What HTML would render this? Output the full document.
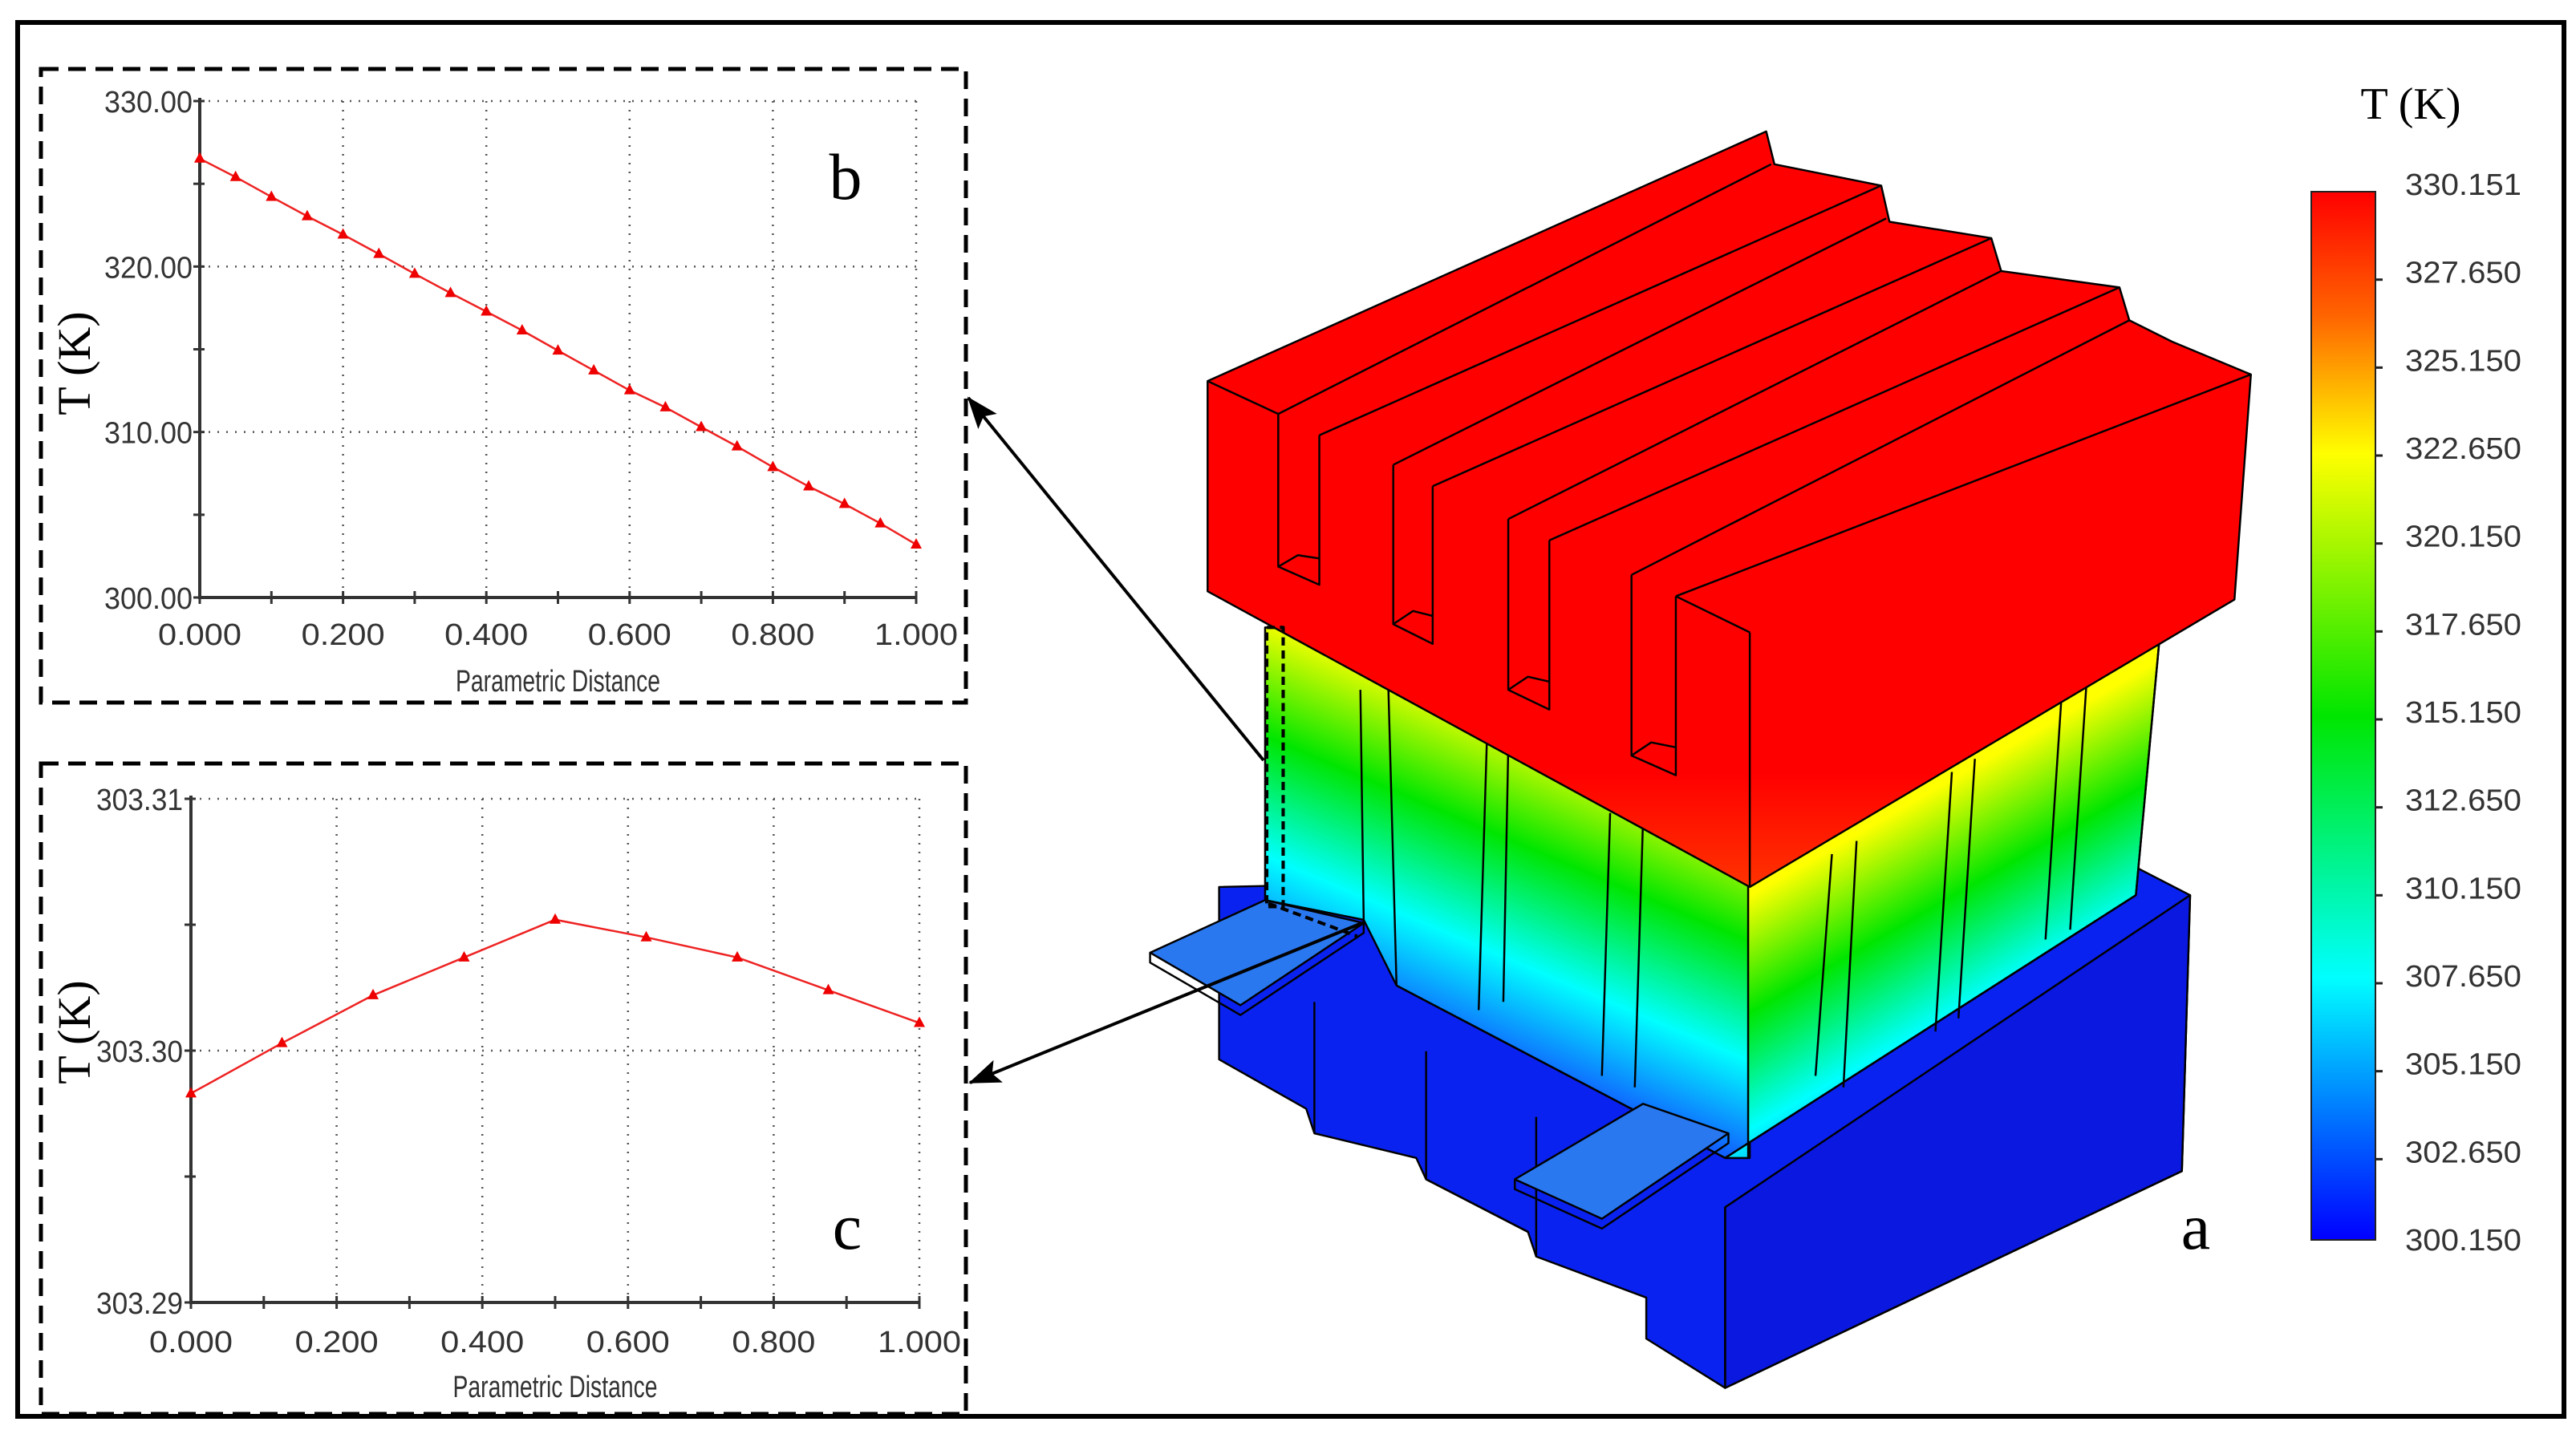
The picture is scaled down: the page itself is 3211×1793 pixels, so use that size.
<!DOCTYPE html>
<html><head><meta charset="utf-8"><style>
html,body{margin:0;padding:0;background:#fff;}
svg{display:block;}
.tick{font-family:"Liberation Sans",sans-serif;fill:#333;font-size:38px;}
.serif{font-family:"Liberation Serif",serif;fill:#000;}
</style></head><body>
<svg id="fig" width="3211" height="1793" viewBox="0 0 3211 1793" xmlns="http://www.w3.org/2000/svg">
<defs>
<linearGradient id="cbar" x1="0" y1="0" x2="0" y2="1">
<stop offset="0" stop-color="#ff0000"/><stop offset="0.12" stop-color="#ff6600"/><stop offset="0.25" stop-color="#ffff00"/>
<stop offset="0.5" stop-color="#00e600"/><stop offset="0.75" stop-color="#00ffff"/><stop offset="0.88" stop-color="#0077ff"/><stop offset="1" stop-color="#0000ff"/>
</linearGradient>
<linearGradient id="finL" gradientUnits="userSpaceOnUse" x1="900" y1="430" x2="825" y2="607">
<stop offset="0" stop-color="#ffff00"/><stop offset="0.35" stop-color="#00e600"/><stop offset="0.7" stop-color="#00ffff"/><stop offset="1" stop-color="#1060ff"/>
</linearGradient>
<linearGradient id="finR" gradientUnits="userSpaceOnUse" x1="1100" y1="525" x2="1188" y2="678">
<stop offset="0" stop-color="#ffff00"/><stop offset="0.35" stop-color="#00e600"/><stop offset="0.7" stop-color="#00ffff"/><stop offset="1" stop-color="#1060ff"/>
</linearGradient>
<linearGradient id="redg" x1="0" y1="0" x2="0" y2="1">
<stop offset="0" stop-color="#ff0000"/><stop offset="0.85" stop-color="#ff0000"/><stop offset="1" stop-color="#ff3300"/>
</linearGradient>
<marker id="ah" markerWidth="40" markerHeight="30" refX="38" refY="15" orient="auto" markerUnits="userSpaceOnUse" viewBox="0 0 40 30"><path d="M0,0 L40,15 L0,30 L8,15 z" fill="#000"/></marker>
</defs>

<rect x="22" y="28" width="3174" height="1738" fill="none" stroke="#000" stroke-width="6"/>

<g transform="scale(2.048)" stroke="#000" stroke-width="1.2" stroke-linejoin="round">
  <polygon fill="#0a22f0" points="742,540 1300,528 1333,545 1328,713 1050,845 1002,815 1002,790 935,765 930,750 868,718 862,705 800,690 795,675 742,645"/>
  <polygon fill="#0a18e0" points="1050,735 1333,545 1328,713 1050,845"/>
  <line x1="1050" y1="735" x2="1050" y2="845"/>
  <polyline fill="none" points="800,610 800,690"/>
  <polyline fill="none" points="868,640 868,718 930,750"/>
  <polyline fill="none" points="935,680 935,765"/>
  <polygon fill="url(#finL)" points="770,382 1065,382 1065,705 1050,705 850,600 830,560 770,548"/>
  <polygon fill="url(#finR)" points="1064,382 1315,382 1300,545 1050,705 1064,705"/>
  <g fill="none">
    <line x1="828" y1="420" x2="830" y2="560"/><line x1="845" y1="418" x2="850" y2="600"/>
    <line x1="905" y1="450" x2="900" y2="615"/><line x1="918" y1="455" x2="915" y2="610"/>
    <line x1="980" y1="495" x2="975" y2="655"/><line x1="1000" y1="500" x2="995" y2="662"/>
    <line x1="1115" y1="520" x2="1105" y2="655"/><line x1="1130" y1="512" x2="1122" y2="662"/>
    <line x1="1188" y1="470" x2="1178" y2="628"/><line x1="1202" y1="462" x2="1192" y2="620"/>
    <line x1="1255" y1="420" x2="1245" y2="572"/><line x1="1270" y1="415" x2="1260" y2="566"/>
    <line x1="1315" y1="382" x2="1300" y2="545"/>
    <polyline points="850,600 1050,705 1300,545"/>
  </g>
  <polygon fill="url(#redg)" points="735,232 1075,80 1080,100 1145,113 1150,135 1212,145 1218,165 1290,175 1296,195 1322,208 1370,228 1360,365 1065,540 735,360"/>
  <g fill="none">
    <polyline points="778,252 1078,100"/><polyline points="803,265 1145,113"/>
    <polyline points="848,283 1148,133"/><polyline points="872,296 1212,145"/>
    <polyline points="918,316 1218,165"/><polyline points="943,329 1290,175"/>
    <polyline points="993,350 1296,195"/><polyline points="1020,363 1370,228"/>
    <polyline points="778,252 778,345 803,356 803,265"/><polyline points="778,345 790,338 803,340"/>
    <polyline points="848,283 848,380 872,392 872,296"/><polyline points="848,380 860,372 872,375"/>
    <polyline points="918,316 918,420 943,432 943,329"/><polyline points="918,420 930,412 943,415"/>
    <polyline points="993,350 993,460 1020,472 1020,363"/><polyline points="993,460 1005,452 1020,455"/>
    <line x1="1020" y1="363" x2="1065" y2="385"/><line x1="1065" y1="385" x2="1065" y2="540"/>
    <line x1="735" y1="232" x2="778" y2="252"/>
  </g>
  <polygon fill="#2a78f0" points="700,580 770,548 830,562 755,612"/>
  <polyline fill="none" points="700,580 700,586 755,618 830,568 830,562"/>
  <polygon fill="#2a78f0" points="922,718 1000,672 1052,690 975,742"/>
  <polyline fill="none" points="922,718 922,724 975,748 1052,696 1052,690"/>
  <rect x="771" y="382" width="10" height="170" fill="none" stroke="#000" stroke-width="2" stroke-dasharray="5,3"/>
  <polyline fill="none" stroke-width="2" stroke-dasharray="5,3" points="772,550 826,570"/>
</g>

<line x1="1575" y1="948" x2="1207" y2="496" stroke="#000" stroke-width="4" marker-end="url(#ah)"/>
<line x1="1700" y1="1150" x2="1209" y2="1350" stroke="#000" stroke-width="4" marker-end="url(#ah)"/>
<text class="serif" x="2737" y="1557" font-size="82" text-anchor="middle">a</text>

<g id="cb">
  <text class="serif" x="3005" y="148" font-size="56" text-anchor="middle">T (K)</text>
  <rect x="2881" y="239" width="80" height="1307" fill="url(#cbar)" stroke="#222" stroke-width="2"/>
</g>

<rect x="51" y="86" width="1153" height="790" fill="none" stroke="#000" stroke-width="5" stroke-dasharray="22,12"/>
<g id="chartB"></g>
<text class="serif" x="1054" y="248" font-size="82" text-anchor="middle">b</text>

<rect x="51" y="952" width="1153" height="811" fill="none" stroke="#000" stroke-width="5" stroke-dasharray="22,12"/>
<g id="chartC"></g>
<text class="serif" x="1056" y="1557" font-size="82" text-anchor="middle">c</text>
</svg>
<script>
const NS="http://www.w3.org/2000/svg";
const bX=[0,0.05,0.1,0.15,0.2,0.25,0.3,0.35,0.4,0.45,0.5,0.55,0.6,0.65,0.7,0.75,0.8,0.85,0.9,0.95,1.0];
const bT=[326.52,325.41,324.21,323.04,321.93,320.76,319.56,318.40,317.28,316.14,314.92,313.72,312.52,311.49,310.30,309.13,307.88,306.71,305.65,304.48,303.20];
const bYTicks=[300,310,320,330];
const bYLabels=["300.00","310.00","320.00","330.00"];
const cX=[0,0.125,0.25,0.375,0.5,0.625,0.75,0.875,1.0];
const cT=[303.2983,303.3003,303.3022,303.3037,303.3052,303.3045,303.3037,303.3024,303.3011];
const cYTicks=[303.29,303.30,303.31];
const cYLabels=["303.29","303.30","303.31"];
const xTicks=[0,0.2,0.4,0.6,0.8,1.0];
const xLabels=["0.000","0.200","0.400","0.600","0.800","1.000"];
const cbLabels=["330.151","327.650","325.150","322.650","320.150","317.650","315.150","312.650","310.150","307.650","305.150","302.650","300.150"];

function mk(parent,tag,attrs){const e=document.createElementNS(NS,tag);for(const k in attrs)e.setAttribute(k,attrs[k]);parent.appendChild(e);return e;}

function chart(g,o){
  const sx=v=>o.x0+(v-0)*(o.x1-o.x0);
  const sy=v=>o.yb+(v-o.ymin)/(o.ymax-o.ymin)*(o.yt-o.yb);
  xTicks.forEach(v=>{if(v>0){const l=mk(g,'line',{x1:sx(v),x2:sx(v),y1:o.yt,y2:o.yb,stroke:'#555','stroke-width':2.5,'stroke-dasharray':'2,9'});
    
    }});
  o.yt2.forEach(v=>{if(v>o.ymin){const l=mk(g,'line',{x1:o.x0,x2:o.x1,y1:sy(v),y2:sy(v),stroke:'#555','stroke-width':2.5,'stroke-dasharray':'2,9'});
    
    }});
  const ax=mk(g,'polyline',{points:`${o.x0},${o.yt-4} ${o.x0},${o.yb} ${o.x1},${o.yb}`,fill:'none',stroke:'#333','stroke-width':4});
  
  
  for(let i=0;i<=10;i++){const v=i/10;const t=mk(g,'line',{x1:sx(v),x2:sx(v),y1:o.yb-8,y2:o.yb+8,stroke:'#333','stroke-width':3});
    
    }
  for(let i=0;i<o.yt2.length*2-1;i++){const v=o.ymin+i*(o.ymax-o.ymin)/((o.yt2.length-1)*2);const t=mk(g,'line',{x1:o.x0-8,x2:o.x0+6,y1:sy(v),y2:sy(v),stroke:'#333','stroke-width':3});
    
    }
  xTicks.forEach((v,i)=>{const t=mk(g,'text',{x:sx(v),y:o.xly,'text-anchor':'middle',class:'tick',textLength:104,lengthAdjust:'spacingAndGlyphs'});t.textContent=xLabels[i];
    
    });
  o.yt2.forEach((v,i)=>{const t=mk(g,'text',{x:o.ylx,y:sy(v)+14,'text-anchor':'end',class:'tick',textLength:o.ylw,lengthAdjust:'spacingAndGlyphs'});t.textContent=o.ylab[i];
    
    });
  const xt=mk(g,'text',{x:(o.x0+o.x1)/2,y:o.xty,'text-anchor':'middle',class:'tick','font-size':30,textLength:255,lengthAdjust:'spacingAndGlyphs'});xt.textContent='Parametric Distance';
  
  
  const yt=mk(g,'text',{x:0,y:0,'text-anchor':'middle',class:'serif','font-size':58,transform:`translate(112,${o.yty}) rotate(-90)`});yt.textContent='T (K)';
  
  
  const pts=o.xs.map((x,i)=>sx(x)+','+sy(o.ys[i])).join(' ');
  const ln=mk(g,'polyline',{points:pts,fill:'none',stroke:'#ee2222','stroke-width':2.5});
  
  
  o.xs.forEach((x,i)=>{const cx=sx(x),cy=sy(o.ys[i]);const m=mk(g,'polygon',{points:`${cx},${cy-8} ${cx-7},${cy+5} ${cx+7},${cy+5}`,fill:'#ee0000'});
    
    });
}
chart(document.getElementById('chartB'),{x0:249,x1:1142,yt:126,yb:745,ymin:300,ymax:330,yt2:bYTicks,ylab:bYLabels,xs:bX,ys:bT,xly:804,xty:862,ylx:240,ylw:110,yty:453});
chart(document.getElementById('chartC'),{x0:238,x1:1146,yt:996,yb:1624,ymin:303.29,ymax:303.31,yt2:cYTicks,ylab:cYLabels,xs:cX,ys:cT,xly:1686,xty:1742,ylx:228,ylw:108,yty:1287});

const cb=document.getElementById('cb');
cbLabels.forEach((s,i)=>{const y=229+i*(1545-229)/12;
  if(i>0&&i<12){const t=mk(cb,'line',{x1:2961,x2:2970,y1:y+10,y2:y+10,stroke:'#222','stroke-width':3});
    
    }
  const tx=mk(cb,'text',{x:2998,y:y+14,class:'tick',textLength:145,lengthAdjust:'spacingAndGlyphs'});tx.textContent=s;
  
  
});
</script>
</body></html>
